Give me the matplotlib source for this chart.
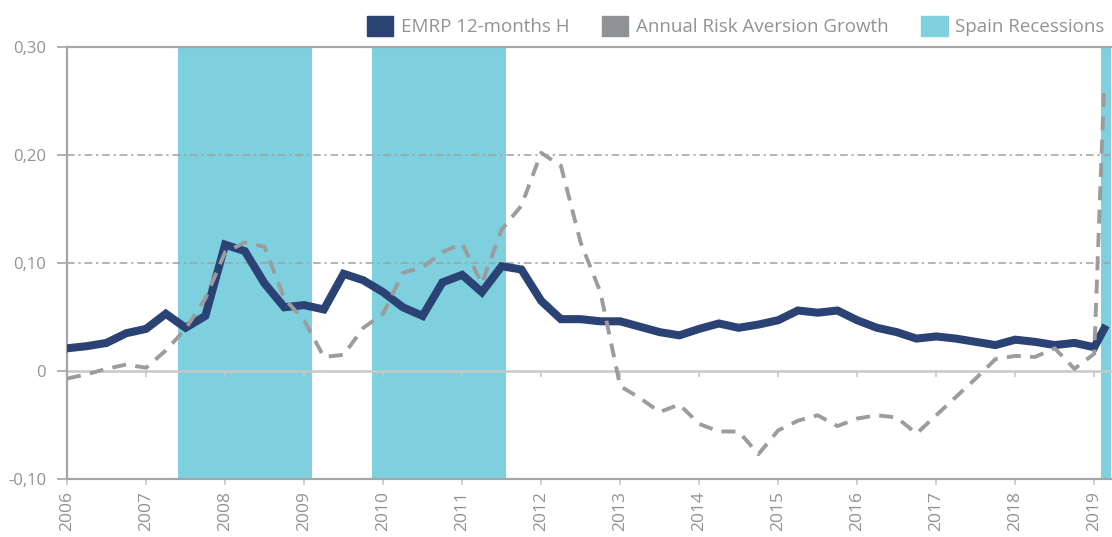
import matplotlib.pyplot as plt
from matplotlib.patches import Patch
import numpy as np

plt.rcParams['font.family'] = ['Open Sans', 'DejaVu Sans']

# quarterly observations, last one is Feb 2019
dates = [2006 + q / 4 for q in range(53)] + [2019.125]

emrp = [0.021, 0.023, 0.026, 0.035, 0.039, 0.053, 0.040, 0.051,
        0.117, 0.111, 0.081, 0.059, 0.061, 0.057, 0.090, 0.084,
        0.073, 0.059, 0.051, 0.082, 0.089, 0.073, 0.097, 0.094,
        0.065, 0.048, 0.048, 0.046, 0.046, 0.041, 0.036, 0.033,
        0.039, 0.044, 0.040, 0.043, 0.047, 0.056, 0.054, 0.056,
        0.047, 0.040, 0.036, 0.030, 0.032, 0.030, 0.027, 0.024,
        0.029, 0.027, 0.024, 0.026, 0.022, 0.039]

risk_aversion = [-0.007, -0.003, 0.002, 0.006, 0.003, 0.019, 0.039, 0.067,
                 0.110, 0.119, 0.115, 0.067, 0.047, 0.013, 0.015, 0.040,
                 0.053, 0.091, 0.096, 0.110, 0.118, 0.081, 0.131, 0.153,
                 0.202, 0.190, 0.119, 0.073, -0.014, -0.025, -0.038, -0.031,
                 -0.049, -0.056, -0.056, -0.077, -0.055, -0.046, -0.041, -0.051,
                 -0.044, -0.041, -0.043, -0.058, -0.041, -0.024, -0.007, 0.011,
                 0.014, 0.013, 0.021, 0.002, 0.016, 0.264]

recessions = [(2007.41, 2009.10), (2009.86, 2011.56), (2019.08, 2019.3)]

years = list(range(2006, 2020))
y_ticks = [-0.10, 0, 0.10, 0.20, 0.30]
y_labels = ['-0,10', '0', '0,10', '0,20', '0,30']

navy = '#2b4275'
grey_line = '#9a9c9e'
grey_patch = '#8e9295'
cyan = '#7fd0de'
txt = '#8f9396'
axis_grey = '#a3a6a8'

fig = plt.figure(figsize=(11.12, 5.37), dpi=100)
ax = fig.add_axes([0.0603, 0.108, 0.939, 0.8045])

for start, end in recessions:
    ax.axvspan(start, end, color=cyan, lw=0, zorder=0)

for v in [0.10, 0.20]:
    ax.axhline(v, color='#a0a0a0', lw=1.1, dashes=(5, 2.5, 1.5, 2.5), zorder=1)

ax.plot(dates, emrp, color=navy, lw=5.8, solid_joinstyle='miter', zorder=3)
ax.plot(dates, risk_aversion, color=grey_line, lw=2.8, dashes=(3.6, 2.4), zorder=4)

ax.set_xlim(2006, 2019.215)
ax.set_ylim(-0.10, 0.30)

ax.set_yticks(y_ticks)
ax.set_yticklabels(y_labels)
ax.set_xticks(years)
ax.set_xticklabels([str(y) for y in years], rotation=90)

ax.tick_params(axis='y', length=7, width=1.2, color=axis_grey, pad=8,
               labelsize=12, labelcolor=txt)
ax.tick_params(axis='x', length=4.5, width=1.2, color='#c8c8c8', pad=4,
               labelsize=12.5, labelcolor=txt)

for side in ['left', 'top', 'bottom']:
    ax.spines[side].set_color(axis_grey)
    ax.spines[side].set_linewidth(1.6)
ax.spines['right'].set_visible(False)

# horizontal axis line at zero with its own tick marks
zero_ax = ax.secondary_xaxis(0, transform=ax.transData)
zero_ax.set_xticks(years)
zero_ax.set_xticklabels([])
zero_ax.tick_params(axis='x', length=4.5, width=1.2, color='#c8c8c8')
zero_ax.spines['bottom'].set_color('#c8c8c8')
zero_ax.spines['bottom'].set_linewidth(1.8)

handles = [Patch(color=navy, label='EMRP 12-months H'),
           Patch(color=grey_patch, label='Annual Risk Aversion Growth'),
           Patch(color=cyan, label='Spain Recessions')]
leg = fig.legend(handles=handles, loc='upper right', bbox_to_anchor=(1.0, 0.984),
                 ncol=3, frameon=False, fontsize=13.5, handlelength=1.4,
                 handleheight=1.25, handletextpad=0.4, columnspacing=1.75,
                 borderaxespad=0.0)
for t in leg.get_texts():
    t.set_color(txt)

fig.savefig('out.png', dpi=100)
